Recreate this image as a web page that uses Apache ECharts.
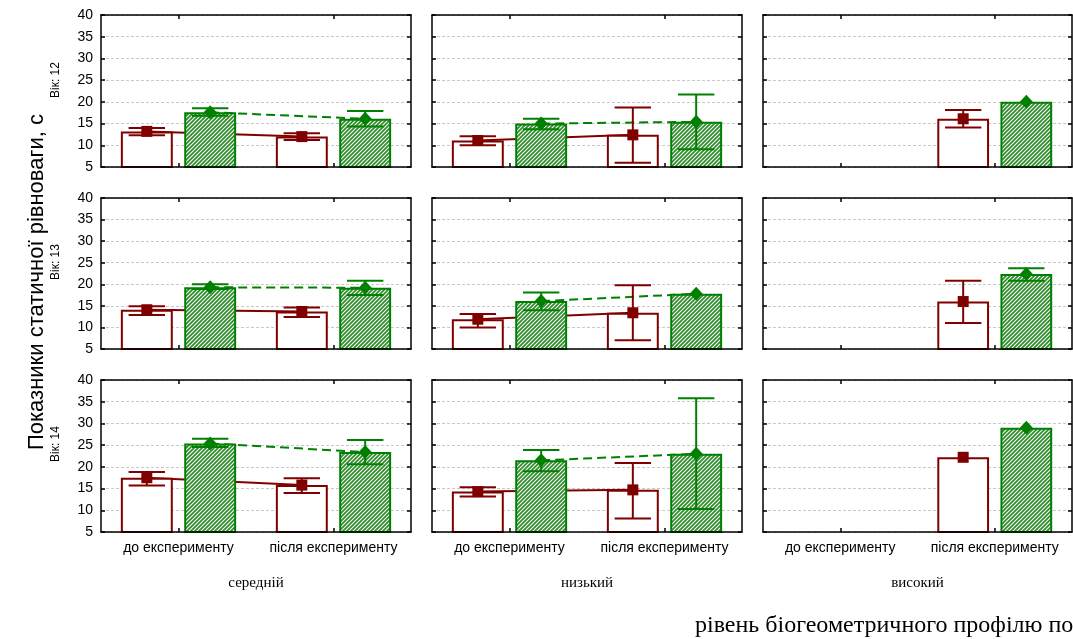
<!DOCTYPE html>
<html>
<head>
<meta charset="utf-8">
<script src="https://cdn.jsdelivr.net/npm/echarts@6/dist/echarts.min.js"></script>
<style>
  html, body { margin: 0; padding: 0; background: #fff; }
  #chart { width: 1073px; height: 639px; }
</style>
</head>
<body>
<div id="chart"></div>
<script>
// ---- data ----
const categories = ['до експерименту', 'після експерименту'];
const ageLabels = ['Вік: 12', 'Вік: 13', 'Вік: 14'];
const levelLabels = ['середній', 'низький', 'високий'];
const yMin = 5;
const yMax = 40;
const yStep = 5;

// indexed [age][level][category]; null = no observations
const redMean = [
  [[13.2, 12.0], [11.1, 12.4], [null, 16.1]],
  [[14.1, 13.7], [11.9, 13.4], [null, 16.0]],
  [[17.5, 15.8], [14.3, 14.7], [null, 22.2]]
];
const redLow = [
  [[12.3, 11.2], [10.0, 6.0], [null, 14.1]],
  [[12.9, 12.4], [10.0, 7.0], [null, 11.0]],
  [[15.7, 14.0], [13.2, 8.1], [null, null]]
];
const redHigh = [
  [[14.0, 12.8], [12.1, 18.7], [null, 18.1]],
  [[14.9, 14.6], [13.1, 19.8], [null, 20.8]],
  [[18.8, 17.4], [15.3, 20.9], [null, null]]
];
const greenMean = [
  [[17.6, 16.1], [15.0, 15.4], [null, 20.0]],
  [[19.3, 19.2], [16.1, 17.8], [null, 22.4]],
  [[25.4, 23.4], [21.5, 23.0], [null, 29.0]]
];
const greenLow = [
  [[16.8, 14.3], [13.7, 9.1], [null, null]],
  [[18.9, 17.5], [14.0, null], [null, 20.8]],
  [[24.6, 20.6], [19.0, 10.3], [null, null]]
];
const greenHigh = [
  [[18.5, 17.9], [16.1, 21.7], [null, null]],
  [[20.0, 20.8], [18.1, null], [null, 23.7]],
  [[26.5, 26.2], [23.9, 35.8], [null, null]]
];

// ---- layout & style ----
const RED = '#800000';
const GREEN = '#008000';
const gridLeft = [101, 432, 763];
const gridWidth = [310, 310, 309];
const gridTop = [15, 198, 380];
const gridHeight = [152, 151, 152];
const BAR_FRAC = 0.335;  // bar width as share of a category band
const GAP_FRAC = 0.22;   // gap between the two bars, share of bar width
const CAP_FRAC = 0.235;  // whisker cap width, share of band
const sansFont = '"Liberation Sans", Arial, sans-serif';
const serifFont = '"Liberation Serif", "Times New Roman", serif';

function makeHatch() {
  const s = 4;
  const cv = document.createElement('canvas');
  cv.width = s; cv.height = s;
  const ctx = cv.getContext('2d');
  ctx.fillStyle = '#2f8a2f';
  ctx.fillRect(0, 0, s, s);
  ctx.strokeStyle = '#f4fbef';
  ctx.lineWidth = 1.2;
  ctx.beginPath();
  ctx.moveTo(0, s); ctx.lineTo(s, 0);
  ctx.moveTo(-1, 1); ctx.lineTo(1, -1);
  ctx.moveTo(s - 1, s + 1); ctx.lineTo(s + 1, s - 1);
  ctx.stroke();
  return cv;
}
const hatch = { image: makeHatch(), repeat: 'repeat' };

function barOffset(api, side) {
  const catW = api.size([1, 0])[0];
  const bw = catW * BAR_FRAC;
  return { dx: side * (bw + bw * GAP_FRAC) / 2, catW: catW };
}

function errorRenderer(side, color, marker) {
  return function (params, api) {
    const cat = api.value(0);
    const mean = api.value(1);
    const lo = api.value(2);
    const hi = api.value(3);
    const o = barOffset(api, side);
    const pm = api.coord([cat, mean]);
    const x = pm[0] + o.dx;
    const y = pm[1];
    const children = [];
    if (hi > lo) {
      const yl = api.coord([cat, lo])[1];
      const yh = api.coord([cat, hi])[1];
      const hw = o.catW * CAP_FRAC / 2;
      const st = { stroke: color, lineWidth: 2 };
      children.push({ type: 'line', shape: { x1: x, y1: yl, x2: x, y2: yh }, style: st });
      children.push({ type: 'line', shape: { x1: x - hw, y1: yl, x2: x + hw, y2: yl }, style: st });
      children.push({ type: 'line', shape: { x1: x - hw, y1: yh, x2: x + hw, y2: yh }, style: st });
    }
    if (marker === 'square') {
      children.push({ type: 'rect', shape: { x: x - 5.5, y: y - 5.5, width: 11, height: 11 }, style: { fill: color } });
    } else {
      children.push({ type: 'polygon', shape: { points: [[x, y - 7], [x + 6.5, y], [x, y + 7], [x - 6.5, y]] }, style: { fill: color } });
    }
    return { type: 'group', children: children };
  };
}

function lineRenderer(side, color, dash) {
  return function (params, api) {
    const o = barOffset(api, side);
    const p0 = api.coord([api.value(0), api.value(1)]);
    const p1 = api.coord([api.value(2), api.value(3)]);
    return {
      type: 'line',
      shape: { x1: p0[0] + o.dx, y1: p0[1], x2: p1[0] + o.dx, y2: p1[1] },
      style: { stroke: color, lineWidth: 2, lineDash: dash }
    };
  };
}

function errorData(mean, low, high) {
  const out = [];
  mean.forEach(function (m, i) {
    if (m === null) return;
    const l = low[i] === null ? m : low[i];
    const h = high[i] === null ? m : high[i];
    out.push([i, m, l, h]);
  });
  return out;
}

function lineData(mean) {
  if (mean[0] === null || mean[1] === null) return [];
  return [[0, mean[0], 1, mean[1]]];
}

const grids = [], xAxes = [], yAxes = [], series = [];
const tickStyle = { color: '#000', width: 1.5 };

for (let r = 0; r < 3; r++) {
  for (let c = 0; c < 3; c++) {
    const g = r * 3 + c;
    grids.push({ left: gridLeft[c], top: gridTop[r], width: gridWidth[c], height: gridHeight[r] });
    const xa = 2 * g, ya = 2 * g;
    xAxes.push({
      gridIndex: g, type: 'category', data: categories, position: 'bottom', z: 10,
      axisLine: { show: true, lineStyle: tickStyle },
      axisTick: { show: true, inside: true, alignWithLabel: true, length: 4, lineStyle: tickStyle },
      axisLabel: {
        show: r === 2, interval: 0, hideOverlap: false, showMinLabel: true, showMaxLabel: true,
        color: '#000', fontSize: 14, fontFamily: sansFont, margin: 9
      },
      splitLine: { show: false }
    });
    xAxes.push({
      gridIndex: g, type: 'category', data: categories, position: 'top', z: 10,
      axisLine: { show: true, lineStyle: tickStyle },
      axisTick: { show: true, inside: true, alignWithLabel: true, length: 4, lineStyle: tickStyle },
      axisLabel: { show: false },
      splitLine: { show: false }
    });
    yAxes.push({
      gridIndex: g, type: 'value', min: yMin, max: yMax, interval: yStep, position: 'left',
      axisLine: { show: true, lineStyle: tickStyle },
      axisTick: { show: true, inside: true, length: 4, lineStyle: tickStyle },
      axisLabel: { show: c === 0, color: '#000', fontSize: 14, fontFamily: sansFont, margin: 8 },
      splitLine: { show: true, lineStyle: { color: '#c8c8c8', width: 1, type: [3, 2] } }
    });
    yAxes.push({
      gridIndex: g, type: 'value', min: yMin, max: yMax, interval: yStep, position: 'right',
      axisLine: { show: true, lineStyle: tickStyle },
      axisTick: { show: true, inside: true, length: 4, lineStyle: tickStyle },
      axisLabel: { show: false },
      splitLine: { show: false }
    });

    const axes = { xAxisIndex: xa, yAxisIndex: ya };
    series.push(Object.assign({
      type: 'custom', z: 1, silent: true, renderItem: lineRenderer(-1, RED, null),
      encode: { x: [0, 2], y: [1, 3] }, data: lineData(redMean[r][c])
    }, axes));
    series.push(Object.assign({
      type: 'custom', z: 1, silent: true, renderItem: lineRenderer(1, GREEN, [9, 5]),
      encode: { x: [0, 2], y: [1, 3] }, data: lineData(greenMean[r][c])
    }, axes));
    series.push(Object.assign({
      type: 'bar', z: 2, barWidth: (BAR_FRAC * 100) + '%', barGap: (GAP_FRAC * 100) + '%',
      itemStyle: { color: '#fff', borderColor: RED, borderWidth: 2 },
      data: redMean[r][c]
    }, axes));
    series.push(Object.assign({
      type: 'bar', z: 2, barWidth: (BAR_FRAC * 100) + '%', barGap: (GAP_FRAC * 100) + '%',
      itemStyle: { color: hatch, borderColor: GREEN, borderWidth: 2 },
      data: greenMean[r][c]
    }, axes));
    series.push(Object.assign({
      type: 'custom', z: 3, silent: true, renderItem: errorRenderer(-1, RED, 'square'),
      encode: { x: 0, y: 1 }, data: errorData(redMean[r][c], redLow[r][c], redHigh[r][c])
    }, axes));
    series.push(Object.assign({
      type: 'custom', z: 3, silent: true, renderItem: errorRenderer(1, GREEN, 'diamond'),
      encode: { x: 0, y: 1 }, data: errorData(greenMean[r][c], greenLow[r][c], greenHigh[r][c])
    }, axes));
  }
}

const texts = [];
texts.push({
  type: 'text', x: 37, y: 282, rotation: Math.PI / 2,
  style: { text: 'Показники статичної рівноваги, с', font: '22px ' + sansFont, fill: '#000', align: 'center', verticalAlign: 'middle' }
});
const ageY = [80, 262, 444];
ageLabels.forEach(function (t, i) {
  texts.push({
    type: 'text', x: 56, y: ageY[i], rotation: Math.PI / 2,
    style: { text: t, font: '12px ' + sansFont, fill: '#000', align: 'center', verticalAlign: 'middle' }
  });
});
levelLabels.forEach(function (t, i) {
  texts.push({
    type: 'text', x: gridLeft[i] + gridWidth[i] / 2, y: 583,
    style: { text: t, font: '15px ' + serifFont, fill: '#000', align: 'center', verticalAlign: 'middle' }
  });
});
texts.push({
  type: 'text', x: 695, y: 626,
  style: { text: 'рівень біогеометричного профілю постави', font: '24px ' + serifFont, fill: '#000', align: 'left', verticalAlign: 'middle' }
});

const chart = echarts.init(document.getElementById('chart'), null, { renderer: 'canvas' });
chart.setOption({
  animation: false,
  backgroundColor: '#fff',
  grid: grids,
  xAxis: xAxes,
  yAxis: yAxes,
  series: series,
  graphic: texts
});
</script>
</body>
</html>
